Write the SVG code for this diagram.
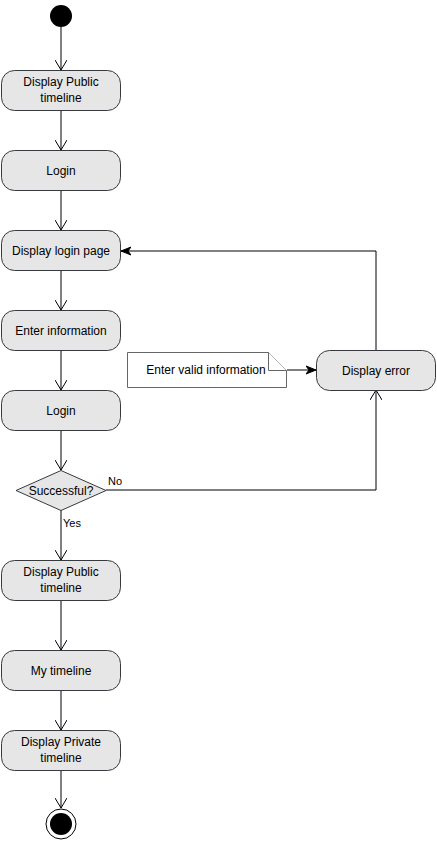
<svg xmlns="http://www.w3.org/2000/svg" width="437" height="841" viewBox="0 0 437 841">
  <defs>
    <style>
      .act { fill: #e6e6e6; stroke: #36393d; stroke-width: 1; }
      .lbl { font-family: "Liberation Sans", Arial, sans-serif; font-size: 12px; fill: #000; text-anchor: middle; }
      .edge { fill: none; stroke: #000; stroke-width: 1; }
      .note { fill: #fff; stroke: #666; stroke-width: 1; }
      .elbl { font-family: "Liberation Sans", Arial, sans-serif; font-size: 11px; fill: #000; }
    </style>
    <marker id="open" viewBox="0 0 10 12" refX="10" refY="6" markerWidth="10" markerHeight="12" markerUnits="userSpaceOnUse" orient="auto">
      <path d="M0,0 L10,6 L0,12" fill="none" stroke="#000" stroke-width="1"/>
    </marker>
    <marker id="block" viewBox="0 0 10 10" refX="10" refY="5" markerWidth="10" markerHeight="10" markerUnits="userSpaceOnUse" orient="auto">
      <path d="M0,1 L10,5 L0,9 L3,5 Z" fill="#000" stroke="#000" stroke-width="1"/>
    </marker>
  </defs>
  <rect width="437" height="841" fill="#fff"/>

  <g id="edges">
    <path class="edge" d="M61,27 L61,70" marker-end="url(#open)"/>
    <path class="edge" d="M61,110 L61,150" marker-end="url(#open)"/>
    <path class="edge" d="M61,190 L61,230" marker-end="url(#open)"/>
    <path class="edge" d="M61,270 L61,310" marker-end="url(#open)"/>
    <path class="edge" d="M61,350 L61,390" marker-end="url(#open)"/>
    <path class="edge" d="M61,430 L61,470" marker-end="url(#open)"/>
    <path class="edge" d="M61,510 L61,560" marker-end="url(#open)"/>
    <path class="edge" d="M61,600 L61,650" marker-end="url(#open)"/>
    <path class="edge" d="M61,690 L61,730" marker-end="url(#open)"/>
    <path class="edge" d="M61,770 L61,808" marker-end="url(#open)"/>
    <path class="edge" d="M106,490 L376,490 L376,390" marker-end="url(#open)"/>
    <path class="edge" d="M376,350 L376,251 L121,251" marker-end="url(#block)"/>
    <path class="edge" d="M287,370 L316,370" marker-end="url(#block)"/>
    <text class="elbl" x="108" y="485">No</text>
    <text class="elbl" x="63" y="527">Yes</text>
  </g>

  <g id="start">
    <circle cx="61" cy="16" r="11" fill="#000"/>
  </g>

  <g id="display-public-1">
    <rect class="act" x="1.5" y="70.5" width="119" height="40" rx="13"/>
    <text class="lbl" x="61" y="86">Display Public</text>
    <text class="lbl" x="61" y="102">timeline</text>
  </g>

  <g id="login-1">
    <rect class="act" x="1.5" y="150.5" width="119" height="40" rx="13"/>
    <text class="lbl" x="61" y="175">Login</text>
  </g>

  <g id="display-login-page">
    <rect class="act" x="1.5" y="230.5" width="119" height="40" rx="13"/>
    <text class="lbl" x="61" y="255">Display login page</text>
  </g>

  <g id="enter-information">
    <rect class="act" x="1.5" y="310.5" width="119" height="40" rx="13"/>
    <text class="lbl" x="61" y="335">Enter information</text>
  </g>

  <g id="login-2">
    <rect class="act" x="1.5" y="390.5" width="119" height="40" rx="13"/>
    <text class="lbl" x="61" y="415">Login</text>
  </g>

  <g id="successful">
    <path class="act" d="M61,470.5 L106,490.5 L61,510.5 L16,490.5 Z"/>
    <text class="lbl" x="61" y="495">Successful?</text>
  </g>

  <g id="display-public-2">
    <rect class="act" x="1.5" y="560.5" width="119" height="40" rx="13"/>
    <text class="lbl" x="61" y="576">Display Public</text>
    <text class="lbl" x="61" y="592">timeline</text>
  </g>

  <g id="my-timeline">
    <rect class="act" x="1.5" y="650.5" width="119" height="40" rx="13"/>
    <text class="lbl" x="61" y="675">My timeline</text>
  </g>

  <g id="display-private">
    <rect class="act" x="1.5" y="730.5" width="119" height="40" rx="13"/>
    <text class="lbl" x="61" y="746">Display Private</text>
    <text class="lbl" x="61" y="762">timeline</text>
  </g>

  <g id="end">
    <circle cx="61" cy="824" r="15" fill="#fff" stroke="#000" stroke-width="1"/>
    <circle cx="61" cy="824" r="11" fill="#000"/>
  </g>

  <g id="display-error">
    <rect class="act" x="316.5" y="350.5" width="119" height="40" rx="13"/>
    <text class="lbl" x="376" y="375">Display error</text>
  </g>

  <g id="note-valid-info">
    <path class="note" d="M127.5,352.5 L268.5,352.5 L286.5,370.5 L286.5,387.5 L127.5,387.5 Z"/>
    <path class="note" d="M268.5,352.5 L268.5,370.5 L286.5,370.5"/>
    <text class="lbl" x="206" y="374">Enter valid information</text>
  </g>
</svg>
